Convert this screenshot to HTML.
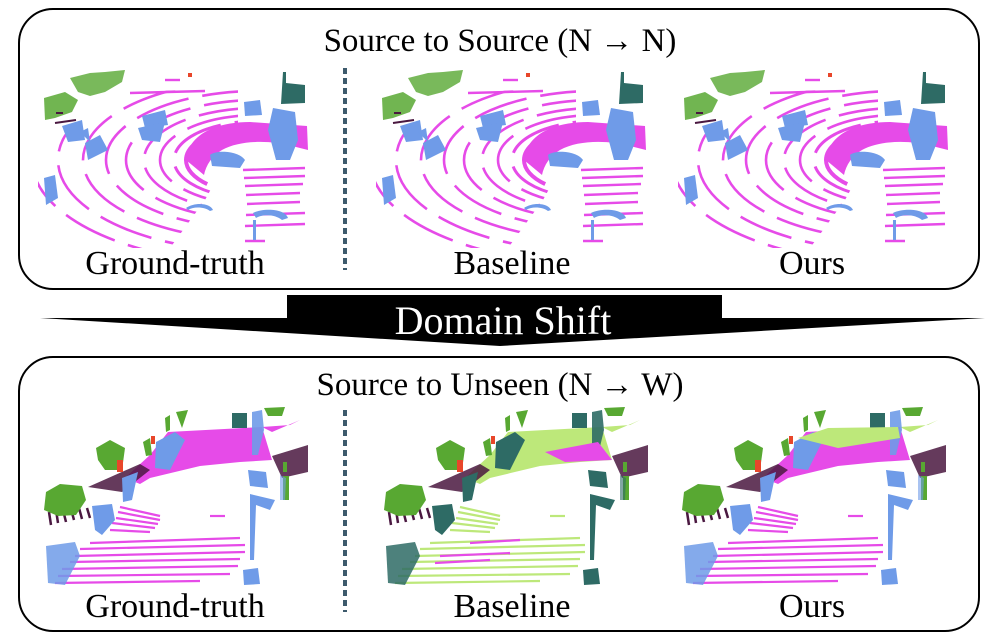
<!DOCTYPE html>
<html><head><meta charset="utf-8"><style>
html,body{margin:0;padding:0;background:#fff}
svg{display:block}
text{font-family:"Liberation Serif",serif}
</style></head><body>
<svg width="1000" height="644" viewBox="0 0 1000 644" xmlns="http://www.w3.org/2000/svg">
<defs>
<clipPath id="arcClip"><polygon points="38,145 70,132 110,112 130,92 238,88 238,140 205,200 170,248 38,248"/></clipPath>
<g id="top">
  <g clip-path="url(#arcClip)" fill="none" stroke="#e64be8" stroke-width="2.6" stroke-dasharray="55 14">
    <ellipse cx="258" cy="160" rx="72" ry="34" stroke-width="4"/>
    <ellipse cx="258" cy="160" rx="84" ry="39" stroke-width="3"/>
    <ellipse cx="258" cy="160" rx="98" ry="45"/>
    <ellipse cx="258" cy="160" rx="114" ry="52"/>
    <ellipse cx="258" cy="160" rx="132" ry="60"/>
    <ellipse cx="258" cy="160" rx="152" ry="69"/>
    <ellipse cx="258" cy="160" rx="175" ry="80"/>
    <ellipse cx="258" cy="160" rx="200" ry="92"/>
    <ellipse cx="258" cy="160" rx="226" ry="104"/>
  </g>
  <path d="M186,160 C188,135 215,122 250,122 L307,126 L308,150 L292,146 C270,140 240,140 222,150 C212,156 206,165 204,175 Z" fill="#e64be8"/>
  <g stroke="#e64be8" stroke-width="2.4">
    <line x1="243" y1="170" x2="305" y2="168"/><line x1="244" y1="178" x2="305" y2="176"/>
    <line x1="245" y1="186" x2="303" y2="184"/><line x1="246" y1="195" x2="300" y2="193"/>
    <line x1="247" y1="204" x2="300" y2="202"/><line x1="246" y1="215" x2="305" y2="213"/>
    <line x1="245" y1="226" x2="305" y2="224"/><line x1="245" y1="241" x2="265" y2="241"/>
    <line x1="130" y1="93" x2="205" y2="91"/><line x1="165" y1="80" x2="180" y2="80"/>
  </g>
  <g fill="#58a832">
    <path d="M44,98 L65,92 L78,100 L72,112 L55,118 L45,120 Z" opacity="0.85"/>
    <path d="M70,78 L90,73 L105,72 L125,70 L122,82 L105,92 L90,96 L78,92 Z" opacity="0.8"/>
  </g>
  <line x1="56" y1="113" x2="63" y2="113" stroke="#4a1840" stroke-width="2"/>
  <line x1="55" y1="123" x2="76" y2="120" stroke="#4a1840" stroke-width="2"/>
  <rect x="188" y="73" width="4" height="4" fill="#e8462a"/>
  <path d="M283,72 L286,72 L286,83 L305,85 L305,103 L281,104 Z" fill="#2e6b65"/>
  <g fill="#6f9be8">
    <path d="M62,126 L82,120 L85,140 L68,142 Z"/>
    <path d="M80,132 L88,128 L90,142 Z"/>
    <path d="M85,143 L100,135 L108,150 L88,160 Z"/>
    <path d="M142,116 L165,110 L168,125 L145,128 Z"/>
    <path d="M138,128 L165,122 L160,142 L142,140 Z"/>
    <path d="M244,102 L260,100 L262,115 L245,116 Z"/>
    <path d="M273,108 L295,112 L298,140 L290,160 L276,160 L268,130 Z"/>
    <path d="M210,155 C215,150 238,150 245,160 L240,168 L212,166 Z"/>
    <path d="M44,178 L55,175 L58,198 L46,205 Z"/>
    <path d="M186,208 C195,202 210,203 213,210 L210,211 C205,207 194,206 188,210 Z"/>
    <path d="M253,213 C262,208 285,208 288,218 L282,220 C275,214 262,214 256,218 Z"/>
    <rect x="253" y="220" width="3" height="20"/>
  </g>
</g>
<g id="bot">
  <path d="M168,432 L262,427 L272,460 L240,462 L200,466 L150,478 L140,484 L125,478 L150,455 Z" style="fill:var(--mg)"/>
  <path d="M262,427 L290,425 L300,420 L272,432 Z" style="fill:var(--mg2)"/>
  <path d="M88,487 L140,464 L150,470 L122,492 Z" fill="#4a1840" opacity="0.85"/>
  <path d="M272,456 L308,445 L308,472 L282,478 Z" fill="#4a1840" opacity="0.85"/>
  <g stroke="#4a1840" stroke-width="2.5">
    <line x1="49" y1="512" x2="51" y2="525"/><line x1="56" y1="510" x2="58" y2="523"/>
    <line x1="63" y1="510" x2="66" y2="522"/><line x1="71" y1="509" x2="74" y2="520"/>
    <line x1="79" y1="508" x2="82" y2="519"/><line x1="87" y1="508" x2="90" y2="518"/>
  </g>
  <g style="stroke:var(--mg)" stroke-width="2.2">
    <line x1="120" y1="507" x2="160" y2="516"/><line x1="118" y1="512" x2="160" y2="520"/>
    <line x1="116" y1="518" x2="158" y2="524"/><line x1="112" y1="523" x2="155" y2="528"/>
    <line x1="110" y1="530" x2="150" y2="532"/><line x1="210" y1="516" x2="225" y2="516"/>
    <line x1="90" y1="543" x2="240" y2="538"/><line x1="80" y1="549" x2="245" y2="545"/>
    <line x1="75" y1="556" x2="245" y2="552"/><line x1="70" y1="562" x2="240" y2="559"/>
    <line x1="62" y1="569" x2="238" y2="566"/><line x1="58" y1="576" x2="230" y2="574"/>
    <line x1="55" y1="583" x2="200" y2="581"/>
  </g>
  <g style="fill:var(--gr)">
    <path d="M46,492 L60,484 L82,486 L86,500 L76,515 L58,516 L44,510 Z"/>
    <path d="M96,448 L110,440 L125,448 L122,470 L105,470 L98,460 Z"/>
    <path d="M143,442 L150,438 L152,455 L146,456 Z"/>
    <path d="M165,418 L170,415 L170,430 L166,432 Z"/>
    <path d="M176,412 L188,410 L182,428 Z"/>
    <path d="M264,408 L285,407 L282,416 L268,416 Z"/>
    <rect x="283" y="476" width="6" height="24"/>
    <rect x="283" y="462" width="4" height="10"/>
  </g>
  <rect x="232" y="413" width="15" height="15" style="fill:var(--tl)"/>
  <rect x="117" y="460" width="6" height="12" fill="#e8462a"/>
  <rect x="151" y="436" width="4" height="8" fill="#e8462a"/>
  <g style="fill:var(--bl)">
    <path d="M156,442 L175,432 L185,440 L170,470 L155,468 Z"/>
    <path d="M122,478 L138,472 L132,500 L123,502 Z"/>
    <path d="M92,506 L112,504 L115,520 L102,535 L95,530 Z"/>
    <path d="M46,546 L75,542 L80,556 L65,585 L48,583 Z" opacity="0.85"/>
    <path d="M252,412 L262,410 L264,430 L258,455 L252,455 Z" opacity="0.9"/>
    <path d="M248,470 L266,472 L268,488 L250,486 Z"/>
    <path d="M250,494 L275,500 L270,510 L256,505 L254,560 L250,560 Z"/>
    <path d="M243,570 L258,568 L260,584 L244,585 Z"/>
    <path d="M280,475 L286,478 L285,500 L280,500 Z" opacity="0.6"/>
  </g>
</g>
</defs>

<rect x="19" y="9" width="960" height="280" rx="34" fill="none" stroke="#000" stroke-width="2"/>
<text x="500" y="51" font-size="33" text-anchor="middle">Source to Source (N → N)</text>
<use href="#top"/>
<use href="#top" transform="translate(338,0)"/>
<use href="#top" transform="translate(640,0)"/>
<line x1="345" y1="68" x2="345" y2="270" stroke="#3d5a6c" stroke-width="4" stroke-dasharray="6 4"/>
<text x="175" y="274" font-size="34" text-anchor="middle">Ground-truth</text>
<text x="512" y="274" font-size="34" text-anchor="middle">Baseline</text>
<text x="812" y="274" font-size="34" text-anchor="middle">Ours</text>

<polygon points="287,295 722,295 722,318 985,318 500,346 40,318 287,318" fill="#000"/>
<text x="503" y="334" font-size="40" fill="#fff" text-anchor="middle">Domain Shift</text>

<rect x="19" y="357" width="960" height="274" rx="34" fill="none" stroke="#000" stroke-width="2"/>
<text x="500" y="395" font-size="33" text-anchor="middle">Source to Unseen (N → W)</text>
<g style="--mg:#e64be8;--mg2:#e64be8;--gr:#58a832;--bl:#6f9be8;--tl:#2e6b65"><use href="#bot"/></g>
<g style="--mg:#bde87a;--mg2:#bde87a;--gr:#58a832;--bl:#2e6b65;--tl:#2e6b65" transform="translate(340,0)"><use href="#bot"/>
  <path d="M205,452 L258,442 L272,460 L225,462 Z" fill="#e64be8"/>
  <g stroke="#e64be8" stroke-width="2.2"><line x1="100" y1="556" x2="170" y2="553"/><line x1="95" y1="563" x2="150" y2="560"/><line x1="130" y1="543" x2="180" y2="540"/></g>
</g>
<g style="--mg:#e64be8;--mg2:#bde87a;--gr:#58a832;--bl:#6f9be8;--tl:#2e6b65" transform="translate(638,0)"><use href="#bot"/>
  <path d="M160,438 L190,428 L260,427 L262,438 L200,448 Z" fill="#bde87a"/>
</g>
<line x1="345" y1="410" x2="345" y2="612" stroke="#3d5a6c" stroke-width="4" stroke-dasharray="6 4"/>
<text x="175" y="617" font-size="34" text-anchor="middle">Ground-truth</text>
<text x="512" y="617" font-size="34" text-anchor="middle">Baseline</text>
<text x="812" y="617" font-size="34" text-anchor="middle">Ours</text>
</svg>
</body></html>
